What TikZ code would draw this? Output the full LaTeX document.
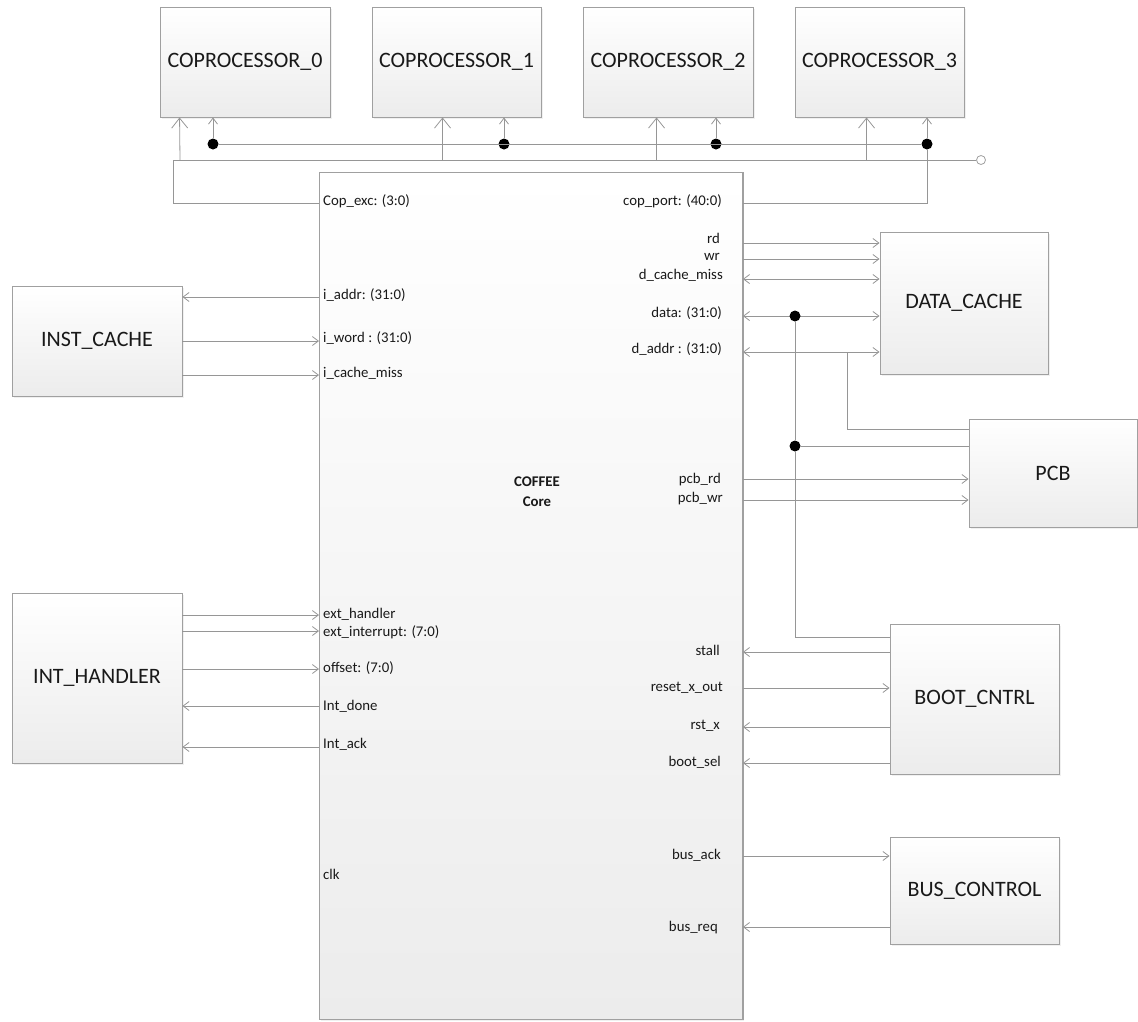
\documentclass[tikz,border=0pt]{standalone}
\usepackage{fontspec}
\setmainfont{Carlito}
\usetikzlibrary{arrows.meta,shadows}
\definecolor{edge}{RGB}{160,160,160}
\definecolor{wire}{RGB}{150,150,150}
\definecolor{boxbot}{RGB}{236,236,236}
\definecolor{ink}{RGB}{25,25,25}

\begin{document}
\begin{tikzpicture}[x=1pt,y=-1pt,
  blk/.style={draw=edge, line width=0.9pt, top color=white, bottom color=boxbot,
    inner sep=0pt, font=\fontsize{22}{26}\selectfont, text=ink,
    drop shadow={opacity=0.12, shadow xshift=1.5pt, shadow yshift=-1.5pt}},
  port/.style={font=\fontsize{14.8}{17}\selectfont, text=ink, inner sep=0pt,
    text height=0.68em, text depth=0.2em},
  lport/.style={port, anchor=west},
  rport/.style={port, anchor=east},
  wirestyle/.style={draw=wire, line width=0.8pt},
  sig/.style={wirestyle, -{Straight Barb[length=6pt,width=9pt]}},
  bisig/.style={wirestyle, {Straight Barb[length=6pt,width=9pt]}-{Straight Barb[length=6pt,width=9pt]}},
  bussig/.style={wirestyle, -{Straight Barb[length=10pt,width=16pt]}},
  jdot/.style={circle, fill=black, minimum size=11pt, inner sep=0pt},
  odot/.style={circle, draw=edge, fill=white, line width=0.8pt, minimum size=9pt, inner sep=0pt}
]
\useasboundingbox (0,0) rectangle (1138,1021);

% ---- blocks ----
\node[blk, minimum width=170, minimum height=110] (cop0) at (245,62) {COPROCESSOR\_0};
\node[blk, minimum width=169, minimum height=110] (cop1) at (456.5,62) {COPROCESSOR\_1};
\node[blk, minimum width=170, minimum height=110] (cop2) at (668,62) {COPROCESSOR\_2};
\node[blk, minimum width=169, minimum height=110] (cop3) at (879.5,62) {COPROCESSOR\_3};

\node[blk, minimum width=423, minimum height=847, anchor=north west] (core) at (319,172) {};
\draw[edge, line width=1.6pt] (core.north east) -- (core.south east);
\node[font=\fontsize{14.8}{20}\selectfont\bfseries, text=ink, align=center] (title) at (537,492) {COFFEE\\Core};

\node[blk, minimum width=170, minimum height=110] (icache) at (97,341) {INST\_CACHE};
\node[blk, minimum width=170, minimum height=170] (inth) at (97,678) {INT\_HANDLER};
\node[blk, minimum width=168, minimum height=142] (dcache) at (964,303) {DATA\_CACHE};
\node[blk, minimum width=168, minimum height=108] (pcb) at (1053,473) {PCB};
\node[blk, minimum width=169, minimum height=150] (boot) at (974.5,699) {BOOT\_CNTRL};
\node[blk, minimum width=169, minimum height=107] (busc) at (974.5,890.5) {BUS\_CONTROL};

% ---- coprocessor buses ----
\coordinate (busL) at (173,160);
\node[odot] (bend) at (981,160) {};
\node[jdot] (d0) at (213,144) {};
\node[jdot] (d1) at (504,144) {};
\node[jdot] (d2) at (716,144) {};
\node[jdot] (d3) at (927,144) {};

\draw[wirestyle] (core.west |- 0,203) -| (busL) -- (bend);
\draw[bussig] ([xshift=7pt]busL) -- ([xshift=20pt]cop0.south west);
\draw[bussig] ([xshift=71pt]cop1.south west |- busL) -- ([xshift=71pt]cop1.south west);
\draw[bussig] ([xshift=74pt]cop2.south west |- busL) -- ([xshift=74pt]cop2.south west);
\draw[bussig] ([xshift=72pt]cop3.south west |- busL) -- ([xshift=72pt]cop3.south west);

\draw[wirestyle] (core.east |- 0,203) -| (d3);
\draw[wirestyle] (d0) -- (d3);
\draw[sig] (d0) -- (d0 |- cop0.south);
\draw[sig] (d1) -- (d1 |- cop1.south);
\draw[sig] (d2) -- (d2 |- cop2.south);
\draw[sig] (d3) -- (d3 |- cop3.south);

% ---- instruction cache ----
\draw[sig] (core.west |- 0,297) -- (icache.east |- 0,297);
\draw[sig] (icache.east |- 0,341) -- (core.west |- 0,341);
\draw[sig] (icache.east |- 0,375) -- (core.west |- 0,375);

% ---- interrupt handler ----
\draw[sig] (inth.east |- 0,615) -- (core.west |- 0,615);
\draw[sig] (inth.east |- 0,631) -- (core.west |- 0,631);
\draw[sig] (inth.east |- 0,669) -- (core.west |- 0,669);
\draw[sig] (core.west |- 0,706) -- (inth.east |- 0,706);
\draw[sig] (core.west |- 0,747) -- (inth.east |- 0,747);

% ---- data cache ----
\draw[sig] (core.east |- 0,243) -- (dcache.west |- 0,243);
\draw[sig] (core.east |- 0,259) -- (dcache.west |- 0,259);
\draw[bisig] (core.east |- 0,279) -- (dcache.west |- 0,279);
\draw[bisig] (core.east |- 0,316) -- (dcache.west |- 0,316);
\draw[bisig] (core.east |- 0,352) -- (dcache.west |- 0,352);

% ---- data / address taps ----
\node[jdot] (dd) at (795,316) {};
\node[jdot] (dp) at (795,446) {};
\coordinate (abr) at (847,352);
\draw[wirestyle] (dd) -- (dp);
\draw[wirestyle] (dp) |- (boot.west |- 0,637);
\draw[wirestyle] (dp) -- (pcb.west |- dp);
\draw[wirestyle] (abr) |- (pcb.west |- 0,429);

% ---- PCB ----
\draw[sig] (core.east |- 0,479) -- (pcb.west |- 0,479);
\draw[sig] (core.east |- 0,500) -- (pcb.west |- 0,500);

% ---- boot control ----
\draw[sig] (boot.west |- 0,652) -- (core.east |- 0,652);
\draw[sig] (core.east |- 0,688) -- (boot.west |- 0,688);
\draw[sig] (boot.west |- 0,727) -- (core.east |- 0,727);
\draw[sig] (boot.west |- 0,763) -- (core.east |- 0,763);

% ---- bus control ----
\draw[sig] (core.east |- 0,856) -- (busc.west |- 0,856);
\draw[sig] (busc.west |- 0,927) -- (core.east |- 0,927);

% ---- port names, left side ----
\node[lport] (pCopExc) at (323,203) {Cop\_exc: (3:0)};
\node[lport] (pIaddr) at (323,297) {i\_addr: (31:0)};
\node[lport] (pIword) at (323,340) {i\_word : (31:0)};
\node[lport] (pImiss) at (323,375) {i\_cache\_miss};
\node[lport] (pExtH) at (323,616) {ext\_handler};
\node[lport] (pExtI) at (323,634) {ext\_interrupt: (7:0)};
\node[lport] (pOff) at (323,670) {offset: (7:0)};
\node[lport] (pDone) at (323,708) {Int\_done};
\node[lport] (pAck) at (323,746) {Int\_ack};
\node[lport] (pClk) at (323,877) {clk};

% ---- port names, right side ----
\node[rport] (pCopPort) at (722,203) {cop\_port: (40:0)};
\node[rport] (pRd) at (720,241) {rd};
\node[rport] (pWr) at (720,258) {wr};
\node[rport] (pDmiss) at (723,277) {d\_cache\_miss};
\node[rport] (pData) at (722,315) {data: (31:0)};
\node[rport] (pDaddr) at (722,351) {d\_addr : (31:0)};
\node[rport] (pPrd) at (721,481) {pcb\_rd};
\node[rport] (pPwr) at (723,500) {pcb\_wr};
\node[rport] (pStall) at (720,653) {stall};
\node[rport] (pRxo) at (723,689) {reset\_x\_out};
\node[rport] (pRst) at (720,727) {rst\_x};
\node[rport] (pBsel) at (721,764) {boot\_sel};
\node[rport] (pBack) at (721,857) {bus\_ack};
\node[rport] (pBreq) at (718,929) {bus\_req};
\end{tikzpicture}
\end{document}
